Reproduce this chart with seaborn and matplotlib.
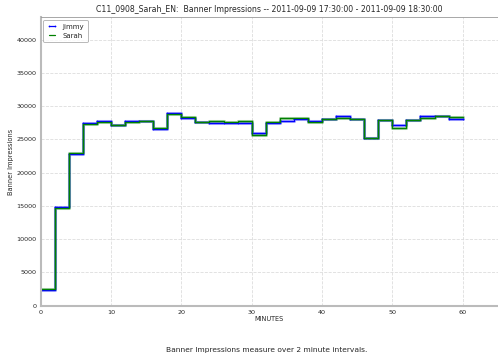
import matplotlib
matplotlib.use("Agg")
import matplotlib.pyplot as plt
import seaborn as sns
import pandas as pd
import numpy as np

minutes = list(range(0, 62, 2))
jimmy = [2400, 14900, 22750, 27450, 27750, 27200, 27700, 27750, 26550, 28900,
         28250, 27650, 27500, 27400, 27500, 25900, 27450, 27700, 28100, 27800,
         28100, 28450, 28000, 25150, 27850, 27200, 27900, 28500, 28500, 28000]
sarah = [2500, 14700, 23000, 27300, 27600, 27100, 27600, 27750, 26700, 28850,
         28400, 27650, 27800, 27650, 27700, 25700, 27550, 28250, 28200, 27600,
         28100, 28200, 28000, 25150, 27950, 26650, 27900, 28150, 28450, 28300]
series_names = ["Jimmy", "Sarah"]
colors = {"Jimmy": "blue", "Sarah": "green"}

title = "C11_0908_Sarah_EN:  Banner Impressions -- 2011-09-09 17:30:00 - 2011-09-09 18:30:00"
caption = "Banner Impressions measure over 2 minute intervals."

rows = []
for name, vals in zip(series_names, [jimmy, sarah]):
    v = vals + [vals[-1]]
    for m, val in zip(minutes, v):
        rows.append({"MINUTES": m, "Banner Impressions": val, "series": name})
df = pd.DataFrame(rows)

sns.set_style("white")
plt.rcParams['font.family'] = ['DejaVu Sans']

fig = plt.figure(figsize=(4.98, 3.6), dpi=100)
ax = fig.add_axes([0.0817, 0.151, 0.918, 0.801])

for name in series_names:
    sub = df[df.series == name]
    sns.lineplot(data=sub, x="MINUTES", y="Banner Impressions", ax=ax,
                 color=colors[name], drawstyle="steps-post", linewidth=2.2,
                 alpha=0.35, legend=False, estimator=None)
for name in series_names:
    sub = df[df.series == name]
    sns.lineplot(data=sub, x="MINUTES", y="Banner Impressions", ax=ax,
                 color=colors[name], drawstyle="steps-post", linewidth=0.9,
                 legend=False, estimator=None,
                 marker="." if name == "Jimmy" else None,
                 markersize=2.5, markeredgewidth=0, label=name)

ymax = max(max(jimmy), max(sarah)) * 1.5
ax.set_xlim(0, 65)
ax.set_ylim(0, ymax)
ax.set_xticks(range(0, 61, 10))
ax.set_yticks(range(0, 40001, 5000))
ax.grid(True, color="#dddddd", linestyle="--", linewidth=0.6)
ax.tick_params(labelsize=4.6, length=2, width=0.5, color="#888888", pad=1)
for s in ["top", "right"]:
    ax.spines[s].set_color("#999999")
    ax.spines[s].set_linewidth(0.6)
for s in ["left", "bottom"]:
    ax.spines[s].set_color("#bbbbbb")
    ax.spines[s].set_linewidth(1.5)

ax.set_xlabel("MINUTES", fontsize=4.7, labelpad=0.5)
ax.set_ylabel("Banner Impressions", fontsize=4.8)
ax.yaxis.set_label_coords(-0.058, 0.5)
ax.set_title(title, fontsize=5.6, pad=4)

handles, labels = ax.get_legend_handles_labels()
leg = ax.legend(handles, labels, loc="upper left", fontsize=5, frameon=True,
                fancybox=True, borderpad=0.55, handlelength=1.5, numpoints=2,
                borderaxespad=0.35, labelspacing=0.45, handletextpad=0.7)
leg.get_frame().set_edgecolor("#999999")
leg.get_frame().set_linewidth(0.6)

fig.text(0.535, 0.028, caption, ha="center", va="center", fontsize=5.4)

fig.savefig("out.png", dpi=100)
